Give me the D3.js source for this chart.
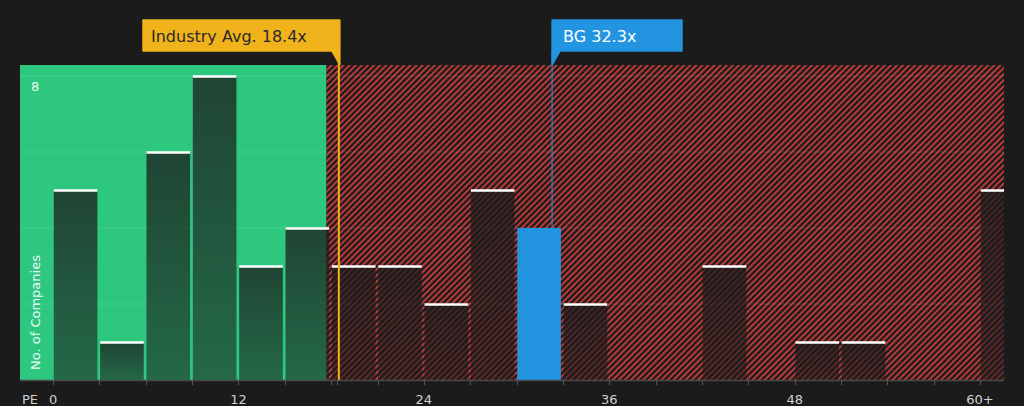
<!DOCTYPE html>
<html>
<head>
<meta charset="utf-8">
<script src="https://cdn.jsdelivr.net/npm/d3@7"></script>
<style>
  body { margin: 0; background: #1b1b1b; }
  svg { display: block; font-family: "DejaVu Sans", sans-serif; }
</style>
</head>
<body>
<div id="chart"></div>
<script>
// PE bins (start of each 3x-wide bin) and number of companies in each
const binStarts = [0, 3, 6, 9, 12, 15, 18, 21, 24, 27, 30, 33, 36, 39, 42, 45, 48, 51, 54, 57, 60];
const counts    = [5, 1, 6, 8, 3, 4, 3, 3, 2, 5, 4, 2, 0, 0, 3, 0, 1, 1, 0, 0, 5];
const tickValues = [0, 12, 24, 36, 48, 60];
const tickLabels = ["0", "12", "24", "36", "48", "60+"];
const industryAvg = 18.4;
const companyPE = 32.3;
const companyName = "BG";
const fairEnd = 17.7;   // end of the green zone

const width = 1024, height = 406;
const margin = { top: 65, right: 20, bottom: 26, left: 20 };

const svg = d3.select("#chart").append("svg")
    .attr("width", width)
    .attr("height", height);

const x = d3.scaleLinear()
    .domain([-2.14, 61.55])
    .range([margin.left, width - margin.right]);
const y = d3.scaleLinear()
    .domain([0, 8.29])
    .range([height - margin.bottom, margin.top]);

const defs = svg.append("defs");

const hatch = defs.append("pattern")
    .attr("id", "hatch")
    .attr("patternUnits", "userSpaceOnUse")
    .attr("width", 4.3)
    .attr("height", 4.3)
    .attr("patternTransform", "rotate(45)");
hatch.append("rect").attr("width", 4.3).attr("height", 4.3).attr("fill", "#1b1b1b");
hatch.append("rect").attr("width", 2).attr("height", 4.3).attr("fill", "#bd3a3a");

const grad = defs.append("linearGradient")
    .attr("id", "barShade")
    .attr("x1", 0).attr("y1", 0).attr("x2", 0).attr("y2", 1);
grad.append("stop").attr("offset", "0%").attr("stop-color", "#1b1b1b").attr("stop-opacity", 0.76);
grad.append("stop").attr("offset", "100%").attr("stop-color", "#1b1b1b").attr("stop-opacity", 0.55);

const x0 = margin.left, x1 = width - margin.right;
const yTop = y(8.29), yBase = y(0);

// background zones
svg.append("rect")
    .attr("x", x0).attr("y", yTop)
    .attr("width", x(fairEnd) - x0).attr("height", yBase - yTop)
    .attr("fill", "#2ec780");
svg.append("rect")
    .attr("x", x(fairEnd)).attr("y", yTop)
    .attr("width", x1 - x(fairEnd)).attr("height", yBase - yTop)
    .attr("fill", "url(#hatch)");

// gridlines
svg.append("g")
    .selectAll("line")
    .data([2, 4, 6, 8])
    .join("line")
    .attr("x1", x0).attr("x2", x1)
    .attr("y1", d => y(d)).attr("y2", d => y(d))
    .attr("stroke", "#ffffff")
    .attr("stroke-opacity", 0.12);

// bars
const bins = binStarts.map((s, i) => ({ start: s, count: counts[i] })).filter(d => d.count > 0);
const isCompany = d => companyPE >= d.start && companyPE < d.start + 3;

const bars = svg.append("g");
bars.selectAll("rect")
    .data(bins)
    .join("rect")
    .attr("x", d => x(d.start) + 0.7)
    .attr("width", d => Math.min(x(d.start + 3) - 2, x1) - x(d.start) - 0.7)
    .attr("y", d => y(d.count))
    .attr("height", d => yBase - y(d.count))
    .attr("fill", d => isCompany(d) ? "#2394e0" : "url(#barShade)");

bars.selectAll("line")
    .data(bins.filter(d => !isCompany(d)))
    .join("line")
    .attr("x1", d => x(d.start) + 0.7)
    .attr("x2", d => Math.min(x(d.start + 3) - 2, x1))
    .attr("y1", d => y(d.count) + 0.5)
    .attr("y2", d => y(d.count) + 0.5)
    .attr("stroke", "#ffffff")
    .attr("stroke-width", 2.5);

// x axis
const tickAll = binStarts.concat([industryAvg]);
svg.append("line")
    .attr("x1", x0).attr("x2", x1)
    .attr("y1", yBase + 0.5).attr("y2", yBase + 0.5)
    .attr("stroke", "#4a4a4a")
    .attr("stroke-width", 1.5);
svg.append("g")
    .selectAll("line")
    .data(tickAll)
    .join("line")
    .attr("x1", d => Math.round(x(d)) + 0.5).attr("x2", d => Math.round(x(d)) + 0.5)
    .attr("y1", yBase).attr("y2", yBase + 5)
    .attr("stroke", "#555555");
svg.append("g")
    .selectAll("text")
    .data(tickValues)
    .join("text")
    .attr("x", d => x(d))
    .attr("y", 404)
    .attr("text-anchor", "middle")
    .attr("fill", "#d0d0d0")
    .attr("font-size", 13)
    .text((d, i) => tickLabels[i]);
svg.append("text")
    .attr("x", 22).attr("y", 404)
    .attr("fill", "#d0d0d0")
    .attr("font-size", 13)
    .text("PE");

// y labels
svg.append("text")
    .attr("x", 31).attr("y", y(8) + 15)
    .attr("fill", "#eafaf1")
    .attr("font-size", 13)
    .text("8");
svg.append("text")
    .attr("transform", `translate(40, 370) rotate(-90)`)
    .attr("fill", "#eafaf1")
    .attr("font-size", 13)
    .text("No. of Companies");

// industry average marker
const ax = x(industryAvg) + 1.5;
svg.append("line")
    .attr("x1", ax).attr("x2", ax)
    .attr("y1", 51).attr("y2", yBase)
    .attr("stroke", "#f0b31c")
    .attr("stroke-width", 2);
svg.append("path")
    .attr("d", `M${ax + 1},20 L${ax + 1},65 L${ax - 7},51 L143,51 L143,20 Z`)
    .attr("fill", "#f0b31c")
    .attr("stroke", "#f0b31c")
    .attr("stroke-linejoin", "round")
    .attr("stroke-width", 1.5);
svg.append("text")
    .attr("x", 151).attr("y", 42)
    .attr("fill", "#2a2a2a")
    .attr("font-size", 16)
    .text(`Industry Avg. ${industryAvg}x`);

// company marker
const cx = x(companyPE);
svg.append("line")
    .attr("x1", cx).attr("x2", cx)
    .attr("y1", 51).attr("y2", yBase)
    .attr("stroke", "#2394e0")
    .attr("stroke-width", 1);
svg.append("path")
    .attr("d", `M${cx},20 L682,20 L682,51 L${cx + 8},51 L${cx},65 Z`)
    .attr("fill", "#2394e0")
    .attr("stroke", "#2394e0")
    .attr("stroke-linejoin", "round")
    .attr("stroke-width", 1.5);
svg.append("text")
    .attr("x", cx + 11).attr("y", 42)
    .attr("fill", "#ffffff")
    .attr("font-size", 16)
    .text(`${companyName} ${companyPE}x`);
</script>
</body>
</html>
